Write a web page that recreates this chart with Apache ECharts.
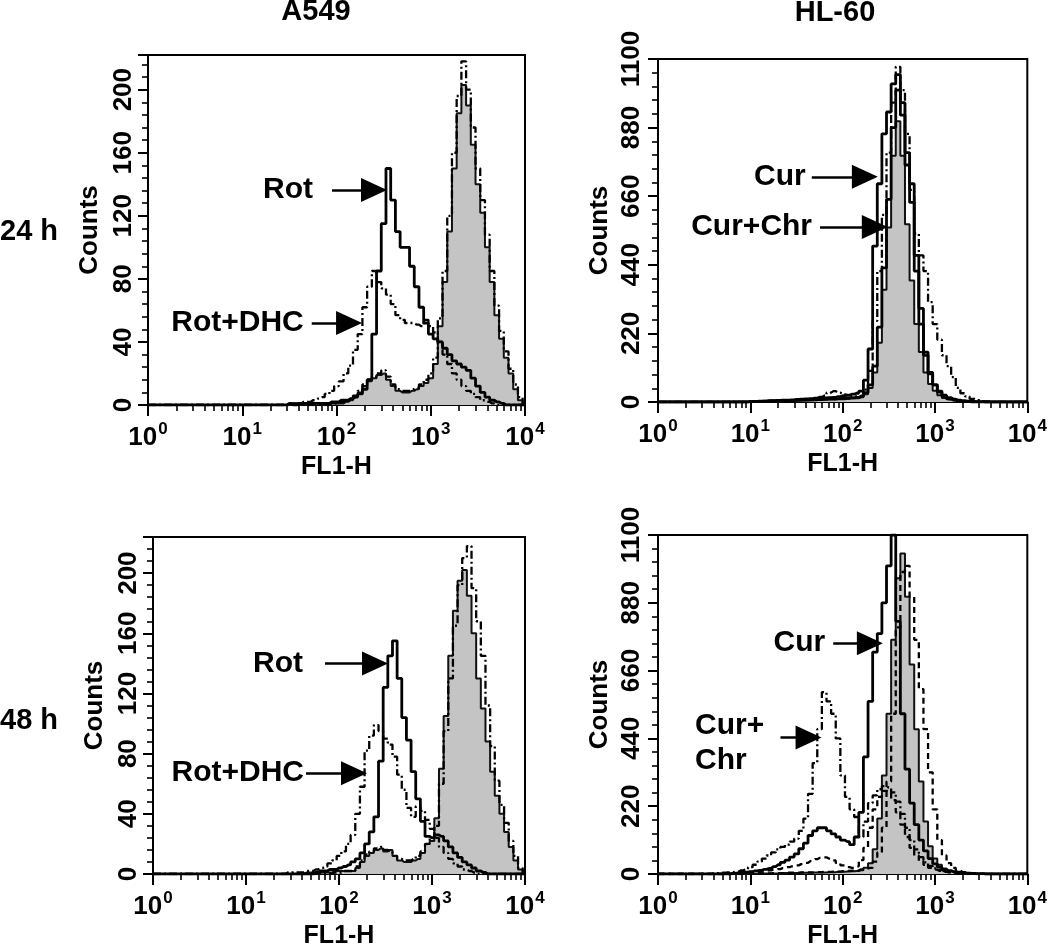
<!DOCTYPE html>
<html><head><meta charset="utf-8">
<script src="https://cdn.jsdelivr.net/npm/echarts@6/dist/echarts.min.js"></script>
<style>html,body{margin:0;padding:0;background:#fff}#c{width:1050px;height:950px}</style>
</head><body><div id="c"></div>
<script>
// FL1-H channel positions (log10 of fluorescence), shared by every histogram
const logChannels = [0,0.05,0.1,0.15,0.2,0.25,0.3,0.35,0.4,0.45,0.5,0.55,0.6,0.65,0.7,0.75,0.8,0.85,0.9,0.95,
1,1.05,1.1,1.15,1.2,1.25,1.3,1.35,1.4,1.45,1.5,1.55,1.6,1.65,1.7,1.75,1.8,1.85,1.9,1.95,
2,2.05,2.1,2.15,2.2,2.25,2.3,2.35,2.4,2.45,2.5,2.55,2.6,2.65,2.7,2.75,2.8,2.85,2.9,2.95,
3,3.05,3.1,3.15,3.2,3.25,3.3,3.35,3.4,3.45,3.5,3.55,3.6,3.65,3.7,3.75,3.8,3.85,3.9,3.95,4];

// A549, 24 h
const a549_24_control = [0,0,0,0,0,0,0,0,0,0, 0,0,0,0,0,0,0,0,0,0, 0,0,0,0,0,0,0,0,0,0, 0,
 1,0,1,0,1,1,0,1,
 1,1,1,2,3,5,8,12,15,17,19,20,16,12,9,8,8,9,10,12,14,17,26,50,78,110,150,185,203,190,165,140,122,100,78,57,42,30,20,10,3, 0];
const a549_24_dhc = [0,0,0,0,0,0,0,0,0,0, 0,0,0,0,0,0,0,0,0,0, 0,0,0,0,0,0,0,0,0,0, 0,0,0,0,0,0,0,0,0,
 1,1,2,3,4,6,9,13,16,18,20,22,18,13,10,9,9,10,11,13,16,20,30,55,85,120,160,196,218,200,176,150,130,108,85,63,47,34,23,13,5, 0];
const a549_24_rot = [0,0,0,0,0,0,0,0,0,0, 0,0,0,0,0,0,0,0,0,0, 0,0,0,0,0,0,0,0,0,0,
 1,0,1,1,1,1,1,1,1,
 2,2,3,3,4,5,7,10,16,45,85,115,150,130,110,100,100,88,75,62,52,45,42,40,36,32,28,26,24,22,17,12,8,5,3,2,1,0,0,0,0, 0];
const a549_24_rotDhc = [0,0,0,0,0,0,0,0,0,0, 0,0,0,0,0,0,0,0,0,0, 0,0,0,0,0,0,0,0,0,0,
 1,1,1,2,2,3,4,5,7,
 9,12,15,20,25,35,45,62,75,85,78,74,70,64,57,54,52,52,51,50,54,50,46,40,32,26,20,16,12,9,7,5,3,2,1,0,0,0,0,0,0, 0];

// HL-60, 24 h
const hl60_24_control = [0,0,0,0,0,0,0,0,0,0, 0,0,0,0,0,0,0,0,0,0,
 1,1,2,2,2,3,3,3,4,4,4,5,5,6,6,7,7,8,8,9,
 9,10,11,12,15,25,45,95,190,360,560,790,900,790,570,390,250,160,95,58,36,22,13,8,5,3,2,1,0,0,
 0,0,0,0,0,0,0,0,0,0,0];
const hl60_24_chr = [0,0,0,0,0,0,0,0,0,0, 0,0,0,0,0,0,0,0,0,0,
 1,2,2,3,3,3,4,4,5,5,6,6,7,7,8,8,9,10,10,11,
 12,13,14,15,18,30,55,115,240,430,650,880,1000,920,760,700,470,300,160,95,55,32,18,10,6,3,2,1,0,0,
 0,0,0,0,0,0,0,0,0,0,0];
const hl60_24_cur = [0,0,0,0,0,0,0,0,0,0, 0,0,0,0,0,0,0,0,0,0,
 2,2,3,3,4,4,5,6,6,7,8,9,10,11,12,12,13,14,15,17,
 20,22,25,28,35,70,170,500,700,860,930,1020,1050,960,800,640,420,250,150,90,55,35,22,14,9,6,4,3,2,1,1,
 0,0,0,0,0,0,0,0,0,0];
const hl60_24_curChr = [0,0,0,0,0,0,0,0,0,0, 0,0,0,0,0,0,0,0,0,0,
 2,2,3,3,4,4,5,5,6,6,6,7,8,10,12,16,20,30,35,30,
 25,22,20,18,20,40,100,260,420,600,800,960,1075,1000,860,680,540,470,420,320,250,200,150,115,80,45,28,18,10,6,3,2,1,
 0,0,0,0,0,0,0,0];

// A549, 48 h
const a549_48_control = [0,0,0,0,0,0,0,0,0,0, 0,0,0,0,0,0,0,0,0,0, 0,0,0,0,0,0,0,0,0,0, 0,0,0,
 1,1,1,1,1,1, 2,2,2,2,
 2,4,8,12,14,16,17,15,16,12,9,8,8,9,10,14,20,22,37,70,105,145,175,195,202,185,160,130,110,88,68,52,40,28,18,9,3, 0];
const a549_48_dhc = [0,0,0,0,0,0,0,0,0,0, 0,0,0,0,0,0,0,0,0,0, 0,0,0,0,0,0,0,0,0,0, 0,0,0,0,0,0,0,0,0,
 1,1,2,2,2,5,9,13,15,17,18,16,15,12,10,9,9,10,12,15,20,24,32,60,95,130,165,192,210,218,190,168,145,112,85,62,46,34,22,12,4, 0];
const a549_48_rot = [0,0,0,0,0,0,0,0,0,0, 0,0,0,0,0,0,0,0,0,0, 0,0,0,0,0,0,0,0,0,0, 0,0,0,0,0,
 1,2,2,3,
 3,4,5,6,8,10,14,20,28,38,75,124,145,155,130,104,89,68,50,35,25,24,26,25,22,18,14,11,8,6,4,2,1,0,0,0,0,0,0,0,0, 0];
const a549_48_rotDhc = [0,0,0,0,0,0,0,0,0,0, 0,0,0,0,0,0,0,0,0,0, 0,0,0,0,0,0,0,0,0,
 1,1,1,1,2,2,3,4,5,7,
 9,12,15,20,26,40,58,82,92,99,95,90,86,78,66,56,44,38,45,42,36,30,24,18,14,10,7,5,3,2,1,0,0,0,0,0,0,0,0,0,0, 0];

// HL-60, 48 h
const hl60_48_control = [0,0,0,0,0,0,0,0,0,0, 0,0,0,0,0,0,0,0,0,0,
 1,1,1,2,2,2,2,3,3,3,3,4,4,4,5,5,5,6,6,7,
 7,8,9,10,12,20,35,80,180,320,520,760,960,1040,900,680,470,300,170,90,50,30,18,10,6,4,2,1,0,0,
 0,0,0,0,0,0,0,0,0,0,0];
const hl60_48_chr = [0,0,0,0,0,0,0,0,0,0, 0,0,0,0,0,0,0,0,0,0,
 1,1,2,2,2,3,3,3,4,4,4,5,5,5,6,6,7,7,8,8,
 9,10,11,12,15,18,20,40,70,150,300,520,800,980,1000,900,760,600,470,330,210,110,60,35,20,12,6,3,2,1,1,
 0,0,0,0,0,0,0,0,0,0];
const hl60_48_cur = [0,0,0,0,0,0,0,0,0,0, 0,0,0,0,0,0,
 2,3,5,6,
 8,10,12,15,18,24,30,38,45,55,65,82,100,125,140,150,150,140,130,120,
 110,105,95,120,200,380,560,720,780,880,1000,1100,820,520,340,230,160,110,75,50,33,22,15,11,8,6,4,3,2,1,1,
 0,0,0,0,0,0,0,0,0,0];
const hl60_48_curChr = [0,0,0,0,0,0,0,0,0,0, 0,0,
 2,3,4,5,6,8,12,15,
 22,30,40,50,60,70,80,88,95,105,115,140,180,260,360,470,590,560,520,440,
 320,250,210,185,120,170,230,255,275,285,280,265,235,195,150,110,80,55,38,26,18,13,9,6,4,3,2,1,1,0,
 0,0,0,0,0,0,0,0,0,0,0];
const hl60_48_low = [0,0,0,0,0,0,0,0,0,0, 0,0,0,0,0,0,0,0,
 2,3,
 5,6,8,10,12,14,16,19,22,25,28,32,36,42,48,52,54,50,44,36,
 28,22,20,25,45,85,150,210,250,270,265,240,200,160,120,85,60,42,30,20,14,10,7,5,3,2,1,0,
 0,0,0,0,0,0,0,0,0,0,0,0,0];

// Axis tick values
const countTicksA549 = [0, 40, 80, 120, 160, 200];
const countTicksHL60 = [0, 220, 440, 660, 880, 1100];

const FONT = '"Liberation Sans", Arial, Helvetica, sans-serif';

function pts(arr) { return arr.map((v, i) => [Math.pow(10, logChannels[i]), v]); }

function xAx(gi) {
  return {
    type: 'log', logBase: 10, gridIndex: gi, min: 1, max: 10000,
    axisLine: { show: true, onZero: false, lineStyle: { color: '#000', width: 2 } },
    axisTick: { show: true, inside: false, length: 11, lineStyle: { color: '#000', width: 2 } },
    minorTick: { show: true, splitNumber: 9, length: 6, lineStyle: { color: '#000', width: 1.6 } },
    splitLine: { show: false }, minorSplitLine: { show: false },
    axisLabel: {
      margin: 16, color: '#000',
      formatter: v => '{b|10}{s|' + Math.round(Math.log10(v)) + '}',
      rich: {
        b: { fontSize: 26, fontWeight: 'bold', fontFamily: FONT, color: '#000', verticalAlign: 'bottom' },
        s: { fontSize: 17, fontWeight: 'bold', fontFamily: FONT, color: '#000', verticalAlign: 'bottom', padding: [0, 0, 13, 1] }
      }
    },
    name: 'FL1-H', nameLocation: 'middle', nameGap: 50,
    nameTextStyle: { fontSize: 25, fontWeight: 'bold', fontFamily: FONT, color: '#000' }
  };
}
function yAx(gi, max, ticks, margin) {
  const step = ticks[1] - ticks[0];
  return {
    type: 'value', gridIndex: gi, min: 0, max: max, interval: step,
    axisLine: { show: true, lineStyle: { color: '#000', width: 2 } },
    axisTick: { show: true, length: 10, lineStyle: { color: '#000', width: 2 } },
    minorTick: { show: true, splitNumber: 5, length: 6, lineStyle: { color: '#000', width: 1.6 } },
    splitLine: { show: false },
    axisLabel: {
      rotate: 90, margin: margin, fontSize: 26, fontWeight: 'bold', fontFamily: FONT, color: '#000',
      formatter: v => (ticks.indexOf(v) >= 0 ? String(v) : '')
    },
    name: 'Counts', nameLocation: 'middle', nameGap: 45,
    nameTextStyle: { fontSize: 26, fontWeight: 'bold', fontFamily: FONT, color: '#000' }
  };
}
const SOLID = { color: '#000', width: 2.8, type: 'solid' };
const DASHDOT = { color: '#000', width: 2.3, type: [8, 3, 2, 3] };
const DASHED = { color: '#000', width: 2.3, type: [6, 4] };

function ser(gi, name, arr, style, extra) {
  return Object.assign({
    type: 'line', name: name, xAxisIndex: gi, yAxisIndex: gi, data: pts(arr),
    step: 'middle', symbol: 'none', showSymbol: false, silent: true, animation: false,
    lineStyle: style
  }, extra || {});
}
function control(gi, arr) {
  return ser(gi, 'Control', arr, { color: '#111', width: 2 },
    { areaStyle: { color: '#c4c4c4', opacity: 1 }, z: 1 });
}
function arrows(list) {
  return {
    silent: true, animation: false, symbol: ['none', 'triangle'], symbolSize: [24, 26],
    lineStyle: { color: '#000', width: 2.5, type: 'solid' },
    label: { show: true, position: 'start', fontSize: 30, fontWeight: 'bold', fontFamily: FONT, color: '#000',
      formatter: p => p.name },
    data: list.map(a => [
      { coord: a.from, name: a.text, label: { show: !!a.text, distance: a.gap } },
      { coord: a.to }
    ])
  };
}

const option = {
  backgroundColor: '#fff',
  animation: false,
  grid: [
    { left: 148, top: 55, width: 377, height: 350, show: true, borderColor: '#000', borderWidth: 2 },
    { left: 658, top: 59, width: 373, height: 343, show: true, borderColor: '#000', borderWidth: 2 },
    { left: 153, top: 537, width: 372, height: 343, show: true, borderColor: '#000', borderWidth: 2 },
    { left: 658, top: 535, width: 373, height: 345, show: true, borderColor: '#000', borderWidth: 2 }
  ],
  xAxis: [xAx(0), xAx(1), xAx(2), xAx(3)],
  yAxis: [yAx(0, 222, countTicksA549, 11), yAx(1, 1100, countTicksHL60, 13),
          yAx(2, 224, countTicksA549, 11), yAx(3, 1100, countTicksHL60, 13)],
  series: [
    control(0, a549_24_control),
    ser(0, 'DHC', a549_24_dhc, DASHDOT),
    ser(0, 'Rot+DHC', a549_24_rotDhc, DASHDOT),
    ser(0, 'Rot', a549_24_rot, SOLID, { markLine: arrows([
      { text: 'Rot', from: [89.6, 136.4], to: [250, 136.4], gap: 19 },
      { text: 'Rot+DHC', from: [54.6, 52], to: [136, 52], gap: 8 }
    ]) }),

    control(1, hl60_24_control),
    ser(1, 'Chr', hl60_24_chr, SOLID),
    ser(1, 'Cur+Chr', hl60_24_curChr, DASHDOT),
    ser(1, 'Cur', hl60_24_cur, SOLID, { markLine: arrows([
      { text: 'Cur', from: [46.3, 722], to: [174, 722], gap: 6 },
      { text: 'Cur+Chr', from: [56.9, 561], to: [223, 561], gap: 8 }
    ]) }),

    control(2, a549_48_control),
    ser(2, 'DHC', a549_48_dhc, DASHDOT),
    ser(2, 'Rot+DHC', a549_48_rotDhc, DASHDOT),
    ser(2, 'Rot', a549_48_rot, SOLID, { markLine: arrows([
      { text: 'Rot', from: [70.7, 140], to: [244, 140], gap: 22 },
      { text: 'Rot+DHC', from: [44.2, 67], to: [145, 67], gap: 2 }
    ]) }),

    control(3, hl60_48_control),
    ser(3, 'Chr', hl60_48_chr, DASHED),
    ser(3, 'Chr-low', hl60_48_low, DASHED),
    ser(3, 'Cur+Chr', hl60_48_curChr, DASHDOT),
    ser(3, 'Cur', hl60_48_cur, SOLID, { markLine: arrows([
      { text: 'Cur', from: [79, 749], to: [197, 749], gap: 8 },
      { text: '', from: [21.2, 443], to: [42.7, 443], gap: 0 }
    ]) })
  ],
  graphic: [
    { type: 'text', x: 316, y: 12, style: { text: 'A549', font: 'bold 29px ' + FONT, fill: '#000', align: 'center', verticalAlign: 'middle', textAlign: 'center', textVerticalAlign: 'middle' } },
    { type: 'text', x: 835, y: 13, style: { text: 'HL-60', font: 'bold 29px ' + FONT, fill: '#000', align: 'center', verticalAlign: 'middle', textAlign: 'center', textVerticalAlign: 'middle' } },
    { type: 'text', x: 0, y: 232, style: { text: '24 h', font: 'bold 29px ' + FONT, fill: '#000', align: 'left', verticalAlign: 'middle', textAlign: 'left', textVerticalAlign: 'middle' } },
    { type: 'text', x: 0, y: 721, style: { text: '48 h', font: 'bold 29px ' + FONT, fill: '#000', align: 'left', verticalAlign: 'middle', textAlign: 'left', textVerticalAlign: 'middle' } },
    { type: 'text', x: 695, y: 743, style: { text: 'Cur+\nChr', font: 'bold 30px ' + FONT, lineHeight: 35, fill: '#000', align: 'left', verticalAlign: 'middle', textAlign: 'left', textVerticalAlign: 'middle' } }
  ]
};

const chart = echarts.init(document.getElementById('c'), null, { renderer: 'canvas' });
chart.setOption(option);
</script>
</body></html>
